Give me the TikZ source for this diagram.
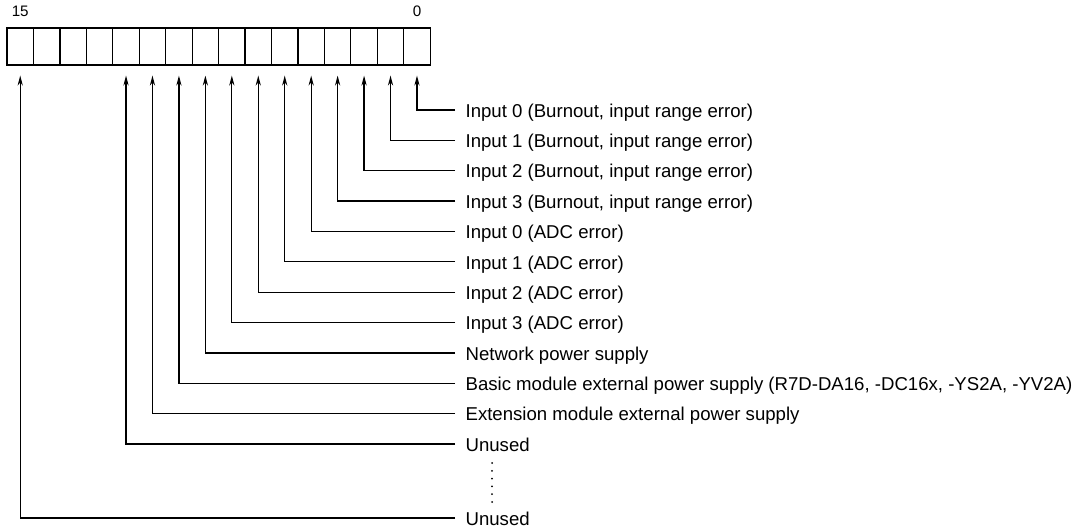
\documentclass[tikz,border=0pt]{standalone}
\usepackage{fontspec}
\setmainfont{Liberation Sans}
\usetikzlibrary{arrows.meta,positioning}
\begin{document}
\begin{tikzpicture}[x=0.5pt, y=-0.5pt, line width=0.6pt,
  bit/.style = {draw, rectangle, minimum width=13.225pt, minimum height=18.5pt, inner sep=0pt},
  num/.style = {inner sep=0pt, font=\fontsize{7.6}{9}\selectfont},
  lbl/.style = {anchor=west, inner xsep=5pt, inner ysep=0pt, font=\fontsize{9.3}{11}\selectfont, text height=0.72em, text depth=0pt},
  sig/.style = {-{Stealth[length=5pt,width=2.6pt]}}]
  \useasboundingbox (0,0) rectangle (1074,529);
  \foreach \i in {0,...,15}
    \node[bit] (b\i) at ({7+(15.5-\i)*26.45},46.5) {};
  \node[num] (n15) [above=5pt of b15] {15};
  \node[num] (n0) [above=5pt of b0] {0};
  \node[lbl] (l0) at (455,110) {Input 0 (Burnout, input range error)};
  \node[lbl] (l1) at (455,140.4) {Input 1 (Burnout, input range error)};
  \node[lbl] (l2) at (455,170.7) {Input 2 (Burnout, input range error)};
  \node[lbl] (l3) at (455,201.1) {Input 3 (Burnout, input range error)};
  \node[lbl] (l4) at (455,231.4) {Input 0 (ADC error)};
  \node[lbl] (l5) at (455,261.8) {Input 1 (ADC error)};
  \node[lbl] (l6) at (455,292.2) {Input 2 (ADC error)};
  \node[lbl] (l7) at (455,322.5) {Input 3 (ADC error)};
  \node[lbl] (l8) at (455,352.9) {Network power supply};
  \node[lbl] (l9) at (455,383.2) {Basic module external power supply (R7D-DA16, -DC16x, -YS2A, -YV2A)};
  \node[lbl] (l10) at (455,413.6) {Extension module external power supply};
  \node[lbl] (l11) at (455,444) {Unused};
  \node[lbl] (l15) at (455,518) {Unused};
  \foreach \i in {0,...,11,15}
    \draw[sig] (l\i.west) -| ([yshift=-5pt]b\i.south);
  \coordinate (d1) at (492,463);
  \coordinate (d2) at (492,502);
  \draw[line width=1pt, line cap=round, dash pattern=on 0pt off 3.9pt] (d1) -- (d2);
\end{tikzpicture}
\end{document}
